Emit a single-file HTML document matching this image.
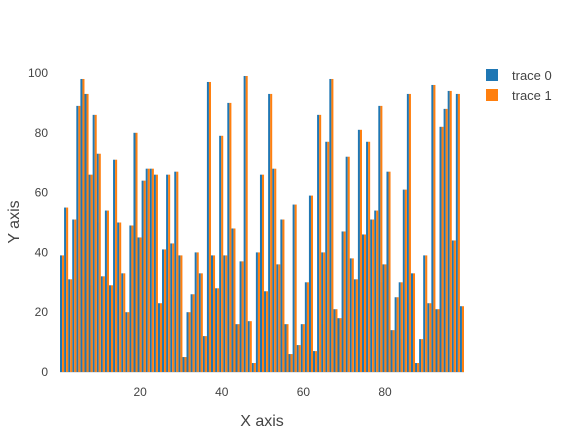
<!DOCTYPE html>
<html><head><meta charset="utf-8"><style>
body{margin:0;background:#fff}
svg text{font-family:"Liberation Sans",sans-serif;fill:#444}
</style></head><body>
<svg id="chart" width="576" height="432" xmlns="http://www.w3.org/2000/svg">
<g id="grid"></g>
<g id="bars"></g>
<g id="xt"></g>
<g id="yt"></g>
<text x="262" y="426" text-anchor="middle" font-size="16">X axis</text>
<text transform="translate(19,222) rotate(-90)" text-anchor="middle" font-size="16">Y axis</text>
<g>
<g><rect x="486" y="69" width="12" height="12" fill="#1f77b4"/><text x="512" y="80" font-size="13">trace 0</text></g>
<g><rect x="486" y="89" width="12" height="12" fill="#ff7f0e"/><text x="512" y="100" font-size="13">trace 1</text></g>
</g>
</svg>
<script>
const trace0 = [39,55,31,51,89,98,93,66,86,73,32,54,29,71,50,33,20,49,80,45,64,68,68,66,23,
41,66,43,67,39,5,20,26,40,33,12,97,39,28,79,39,90,48,16,37,99,17,3,40,66,
27,93,68,36,51,16,6,56,9,16,30,59,7,86,40,77,98,21,18,47,72,38,31,81,46,
77,51,54,89,36,67,14,25,30,61,93,33,3,11,39,23,96,21,82,88,94,44,93,22];
const trace1 = [39,55,31,51,89,98,93,66,86,73,32,54,29,71,50,33,20,49,80,45,64,68,68,66,23,
41,66,43,67,39,5,20,26,40,33,12,97,39,28,79,39,90,48,16,37,99,17,3,40,66,
27,93,68,36,51,16,6,56,9,16,30,59,7,86,40,77,98,21,18,47,72,38,31,81,46,
77,51,54,89,36,67,14,25,30,61,93,33,3,11,39,23,96,21,82,88,94,44,93,22];
const xTicks = [20,40,60,80];
const yTicks = [0,20,40,60,80,100];
const NS='http://www.w3.org/2000/svg';
const L=60,R=464,T=73,B=372;
const xmin=-0.5,xmax=98.5;
const xs=v=>L+(v-xmin)/(xmax-xmin)*(R-L);
const ys=v=>B-v/100*(B-T);
const cw=(R-L)/(xmax-xmin);
const tickShift=-3.5;
function mk(tag,attrs,parent){const e=document.createElementNS(NS,tag);for(const k in attrs)e.setAttribute(k,attrs[k]);parent.appendChild(e);return e;}
const grid=document.getElementById('grid'),bars=document.getElementById('bars'),xt=document.getElementById('xt'),yt=document.getElementById('yt');
yTicks.forEach(t=>{
  if(t===0){
    const ln=mk('line',{x1:L,x2:R,y1:ys(t)+0.5,y2:ys(t)+0.5,stroke:'#e6e6e6','stroke-width':1},grid);
    
    
  }
  const tx=mk('text',{x:48,y:ys(t)+4,'text-anchor':'end','font-size':12},yt);
  tx.textContent=t;
  
  
});
xTicks.forEach(t=>{
  const tx=mk('text',{x:xs(t)+tickShift,y:396,'text-anchor':'middle','font-size':12},xt);
  tx.textContent=t;
  
  
});
trace0.forEach((v,i)=>{
  const x=xs(i)-cw/2;
  const r=mk('rect',{x:x,y:ys(v),width:cw/2,height:B-ys(v),fill:'#1f77b4'},bars);
  
  
});
trace1.forEach((v,i)=>{
  const x=xs(i);
  const r=mk('rect',{x:x,y:ys(v),width:cw/2,height:B-ys(v),fill:'#ff7f0e'},bars);
  
  
});
</script>
</body></html>
